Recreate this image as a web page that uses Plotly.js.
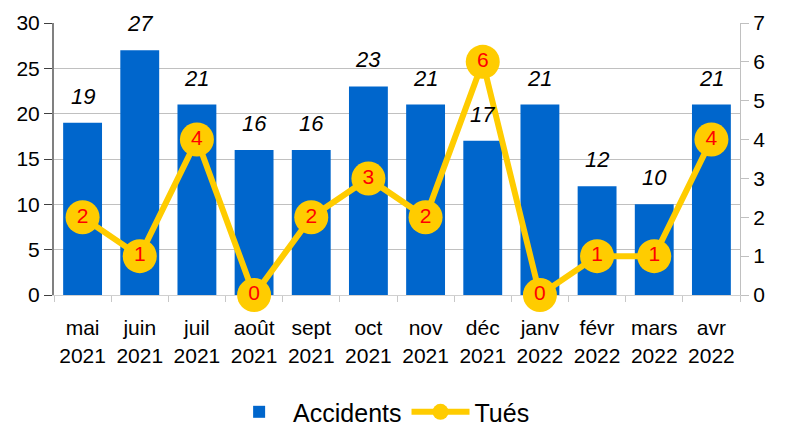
<!DOCTYPE html>
<html>
<head>
<meta charset="utf-8">
<script src="https://cdn.plot.ly/plotly-3.0.1.min.js"></script>
<style>html,body{margin:0;padding:0;background:#fff;}#chart{width:787px;height:427px;}</style>
</head>
<body>
<div id="chart"></div>
<script>
const categories = ["mai<br>2021","juin<br>2021","juil<br>2021","août<br>2021","sept<br>2021","oct<br>2021","nov<br>2021","déc<br>2021","janv<br>2022","févr<br>2022","mars<br>2022","avr<br>2022"];
const accidents = [19,27,21,16,16,23,21,17,21,12,10,21];
const tues = [2,1,4,0,2,3,2,6,0,1,1,4];

const FONT = "Liberation Sans, Arial, sans-serif";

const barTrace = {
  type: "bar", name: "Accidents", x: categories, y: accidents,
  marker: {color: "#0066CC"}, yaxis: "y", hoverinfo: "skip"
};
const lineTrace = {
  type: "scatter", mode: "lines+markers+text", name: "Tués",
  x: categories, y: tues, yaxis: "y2",
  line: {color: "#FFCC00", width: 6},
  marker: {color: "#FFCC00", size: 34},
  text: tues.map(String), textposition: "middle center",
  textfont: {color: "#FF0000", size: 21, family: FONT},
  cliponaxis: false, hoverinfo: "skip"
};

const annotations = categories.map((c, i) => ({
  x: c, y: accidents[i], xref: "x", yref: "y",
  text: String(accidents[i]), showarrow: false,
  yanchor: "bottom", yshift: 12,
  font: {family: FONT, size: 22, color: "#000", style: "italic"}
}));

const layout = {
  width: 787, height: 427,
  margin: {l: 54, r: 47, t: 23, b: 132},
  paper_bgcolor: "#fff", plot_bgcolor: "#fff",
  font: {family: FONT, size: 21, color: "#000"},
  bargap: 0.32,
  showlegend: true,
  legend: {orientation: "h", x: 0.483, xref: "container", xanchor: "center",
           y: 0.035, yref: "container", yanchor: "middle", itemwidth: 58,
           font: {family: FONT, size: 25, color: "#000"}},
  xaxis: {
    type: "category", range: [-0.5, categories.length - 0.5], autorange: false,
    showline: true, linecolor: "#d0d0d0", linewidth: 1, layer: "below traces",
    ticks: "outside", tickson: "boundaries", ticklen: 6, tickcolor: "#c8c8c8",
    showgrid: false, tickfont: {size: 21}, tickangle: 0, ticklabelstandoff: 14,
    automargin: false, fixedrange: true
  },
  yaxis: {
    range: [0, 30], dtick: 5, showline: true, linecolor: "#808080", linewidth: 2,
    ticks: "outside", ticklen: 8, tickcolor: "#404040", automargin: false,
    layer: "below traces",
    gridcolor: "#c0c0c0", gridwidth: 1, zeroline: false, tickfont: {size: 21}
  },
  yaxis2: {
    range: [0, 7], dtick: 1, overlaying: "y", side: "right",
    showline: true, linecolor: "#c0c0c0", linewidth: 1, automargin: false,
    ticks: "outside", ticklen: 8, tickcolor: "#c0c0c0", layer: "below traces",
    showgrid: false, zeroline: false, tickfont: {size: 21}
  },
  annotations: annotations
};

Plotly.newPlot("chart", [barTrace, lineTrace], layout, {displayModeBar: false, staticPlot: true});
</script>
</body>
</html>
